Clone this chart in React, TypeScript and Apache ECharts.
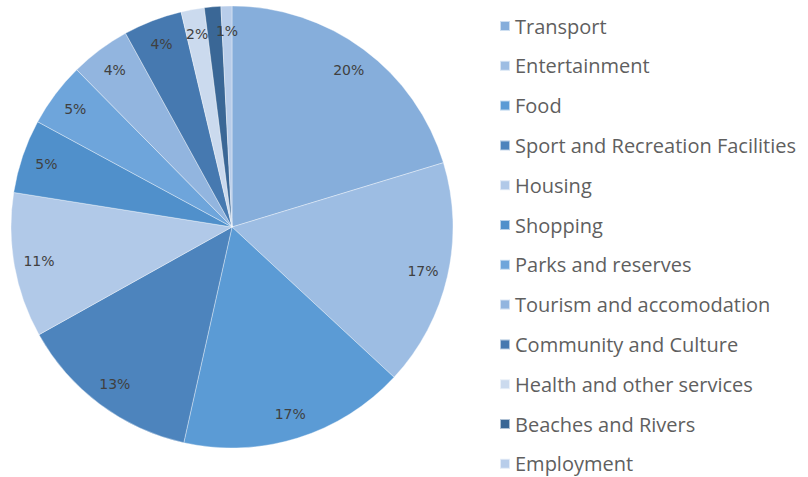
import React, { useEffect, useRef } from "react";
import * as echarts from "echarts";

const categories = [
  "Transport",
  "Entertainment",
  "Food",
  "Sport and Recreation Facilities",
  "Housing",
  "Shopping",
  "Parks and reserves",
  "Tourism and accomodation",
  "Community and Culture",
  "Health and other services",
  "Beaches and Rivers",
  "Employment",
];
const values = [20.3, 16.6, 16.6, 13.4, 10.6, 5.4, 4.7, 4.4, 4.3, 1.7, 1.2, 0.8];
const colors = [
  "#86AEDB",
  "#9DBDE3",
  "#5B9BD5",
  "#4D84BD",
  "#B1C9E8",
  "#5090CB",
  "#6EA5DB",
  "#92B5DF",
  "#4679B0",
  "#CBDAEE",
  "#3A6796",
  "#B8CDEA",
];
const hiddenLabels = ["Beaches and Rivers"];

export default function App() {
  const ref = useRef<HTMLDivElement>(null);
  useEffect(() => {
    document.body.style.margin = "0";
    if (!ref.current) return;
    const chart = echarts.init(ref.current, undefined, { renderer: "svg" });
    const main = categories.map((c, i) => ({
      name: c,
      value: values[i],
      itemStyle: { color: colors[i] },
    }));
    const overlay = categories.map((c, i) => ({
      name: c,
      value: values[i],
      label: { show: !hiddenLabels.includes(c) },
    }));
    chart.setOption({
      animation: false,
      backgroundColor: "#ffffff",
      legend: {
        orient: "vertical",
        left: 499,
        top: 15,
        height: 462,
        padding: 0,
        icon: "rect",
        itemWidth: 10,
        itemHeight: 10,
        itemGap: 17.8,
        selectedMode: false,
        data: categories,
        textStyle: {
          fontFamily: "Open Sans",
          fontSize: 20,
          lineHeight: 22,
          color: "#5f5f5f",
        },
      },
      series: [
        {
          type: "pie",
          center: [232, 227],
          radius: [0, 221],
          startAngle: 90,
          clockwise: true,
          silent: true,
          label: { show: false },
          labelLine: { show: false },
          itemStyle: { borderColor: "rgba(255,255,255,0.6)", borderWidth: 0.6 },
          data: main,
        },
        {
          type: "pie",
          center: [232, 227],
          radius: [165, 221],
          startAngle: 90,
          clockwise: true,
          silent: true,
          itemStyle: { color: "rgba(0,0,0,0)" },
          label: {
            show: true,
            position: "inside",
            fontFamily: "DejaVu Sans",
            fontSize: 14,
            color: "#404040",
            formatter: (p: any) => Math.round(p.percent) + "%",
          },
          labelLine: { show: false },
          data: overlay,
        },
      ],
    });
    return () => chart.dispose();
  }, []);
  return <div ref={ref} style={{ width: 808, height: 477 }} />;
}
